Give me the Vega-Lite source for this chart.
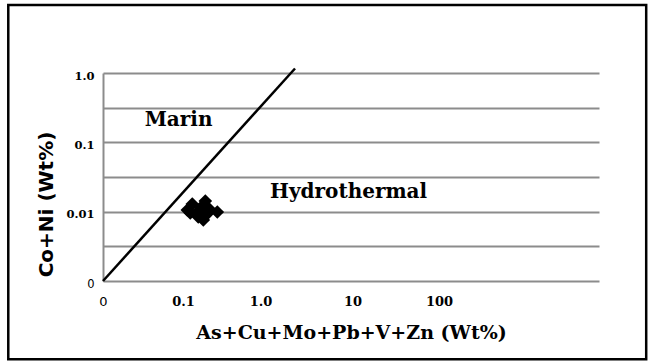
{
  "$schema": "https://vega.github.io/schema/vega-lite/v6.json",
  "width": 496,
  "height": 208,
  "autosize": {"type": "none"},
  "padding": {"left": 103, "top": 73, "right": 50, "bottom": 81},
  "background": "white",
  "config": {
    "view": {"stroke": null},
    "axis": {"labelColor": "black", "titleColor": "black"}
  },
  "datasets": {
    "samples": [
      {"x": 1.054, "y": 2.048},
      {"x": 1.116, "y": 2.221},
      {"x": 1.166, "y": 1.961},
      {"x": 1.229, "y": 2.134},
      {"x": 1.279, "y": 2.307},
      {"x": 1.329, "y": 2.077},
      {"x": 1.254, "y": 1.76},
      {"x": 1.429, "y": 1.99},
      {"x": 1.191, "y": 1.846},
      {"x": 1.091, "y": 1.961},
      {"x": 1.21, "y": 2.0},
      {"x": 1.3, "y": 1.93}
    ],
    "boundary": [
      {"x": 0, "y": 0},
      {"x": 2.4, "y": 6.13}
    ],
    "regions": [
      {"label": "Marin", "x": 0.945, "y": 4.64},
      {"label": "Hydrothermal", "x": 3.07, "y": 2.57}
    ],
    "frame": [
      {"x": -1.184, "x2": 6.79, "y": 7.96, "y2": -2.26}
    ]
  },
  "encoding": {
    "x": {
      "field": "x",
      "type": "quantitative",
      "scale": {"domain": [0, 6.2], "nice": false, "zero": false},
      "axis": {
        "title": "As+Cu+Mo+Pb+V+Zn (Wt%)",
        "titleFont": "DejaVu Serif",
        "titleFontWeight": "bold",
        "titleFontSize": 19,
        "titleBaseline": "middle",
        "titleY": 51,
        "values": [0, 1, 1.97, 3.12, 4.2],
        "labelExpr": "datum.value == 0 ? '0' : datum.value == 1 ? '0.1' : datum.value < 2.5 ? '1.0' : datum.value < 3.5 ? '10' : '100'",
        "labelFont": {"condition": {"test": "datum.value == 0", "value": "DejaVu Sans"}, "value": "DejaVu Serif"},
        "labelFontWeight": {"condition": {"test": "datum.value == 0", "value": "normal"}, "value": "bold"},
        "labelFontSize": 13,
        "labelPadding": 14,
        "labelFlush": false,
        "grid": false,
        "ticks": false,
        "domain": false
      }
    },
    "y": {
      "field": "y",
      "type": "quantitative",
      "scale": {"domain": [0, 6], "nice": false, "zero": false},
      "axis": {
        "title": "Co+Ni (Wt%)",
        "titleFont": "DejaVu Sans",
        "titleFontWeight": "bold",
        "titleFontSize": 20,
        "titleBaseline": "middle",
        "titleAlign": "center",
        "titleX": -57,
        "titleY": 131,
        "values": [0, 1, 2, 3, 4, 5, 6],
        "labelExpr": "datum.value == 0 ? '0' : datum.value == 2 ? '0.01' : datum.value == 4 ? '0.1' : datum.value == 6 ? '1.0' : ''",
        "labelFont": {"condition": {"test": "datum.value == 0", "value": "DejaVu Sans"}, "value": "DejaVu Serif"},
        "labelFontWeight": {"condition": {"test": "datum.value == 0", "value": "normal"}, "value": "bold"},
        "labelFontSize": 11.5,
        "labelPadding": 9,
        "labelOffset": 3,
        "labelFlush": false,
        "grid": true,
        "gridColor": "#8c8c8c",
        "gridWidth": 2,
        "domain": true,
        "domainColor": "#8c8c8c",
        "domainWidth": 2,
        "ticks": false
      }
    }
  },
  "layer": [
    {
      "data": {"name": "boundary"},
      "mark": {"type": "line", "color": "black", "strokeWidth": 2.5, "clip": false}
    },
    {
      "data": {"name": "samples"},
      "mark": {"type": "point", "shape": "diamond", "filled": true, "color": "black", "opacity": 1, "size": 185}
    },
    {
      "data": {"name": "regions"},
      "mark": {"type": "text", "font": "DejaVu Serif", "fontWeight": "bold", "fontSize": 20, "color": "black", "baseline": "middle", "align": "center"},
      "encoding": {"text": {"field": "label"}}
    },
    {
      "data": {"name": "frame"},
      "mark": {"type": "rect", "fill": "white", "fillOpacity": 0, "stroke": "black", "strokeWidth": 2.5, "strokeOpacity": 1, "clip": false},
      "encoding": {
        "x": {"field": "x", "type": "quantitative"},
        "x2": {"field": "x2"},
        "y": {"field": "y", "type": "quantitative"},
        "y2": {"field": "y2"}
      }
    }
  ]
}
